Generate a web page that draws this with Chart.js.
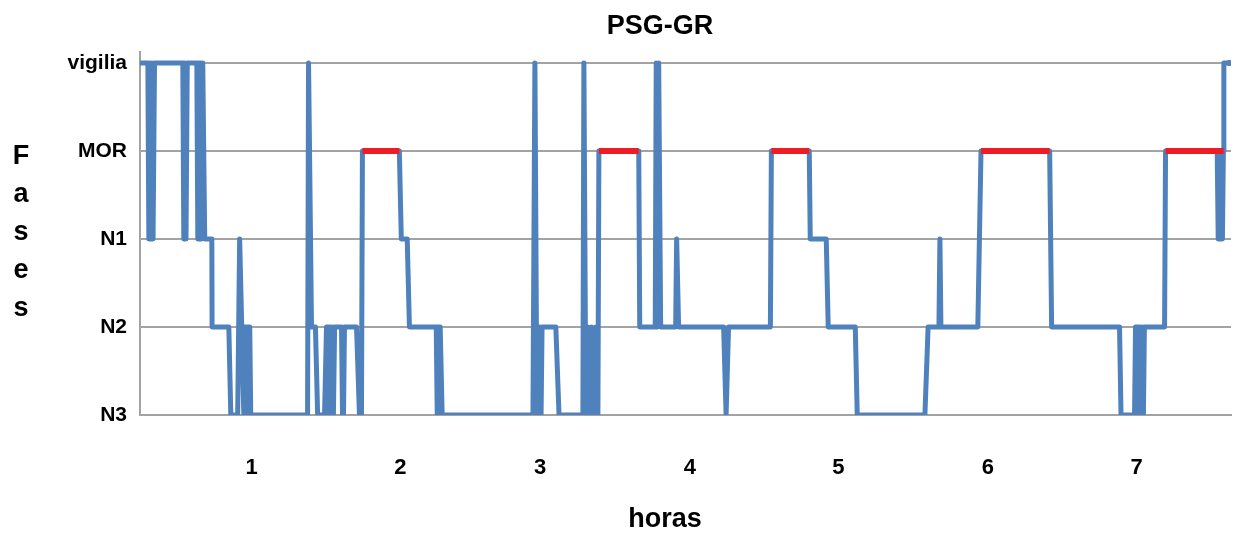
<!DOCTYPE html>
<html>
<head>
<meta charset="utf-8">
<script src="https://cdn.jsdelivr.net/npm/chart.js@4.4.0/dist/chart.umd.min.js"></script>
<style>
  body { margin: 0; background: #fff; }
  #wrap { width: 1235px; height: 536px; position: relative; }
</style>
</head>
<body>
<div id="wrap"><canvas id="hipnograma"></canvas></div>
<script>
  // fases del sueno, de abajo hacia arriba
  const etiquetasFase = ['N3', 'N2', 'N1', 'MOR', 'vigilia'];
  const horas = [1, 2, 3, 4, 5, 6, 7];
  // donde cae cada etiqueta de hora (minutos)
  const posicionHoras = [60, 120.4, 177.2, 238.1, 298.4, 359.2, 419.6];

  // tiempo (minutos) de cada vertice del hipnograma
  const tiempos = [
    14.6, 17.8, 18.2, 18.6, 19.0, 19.5, 19.9, 20.5, 32.0, 32.4,
    32.8, 33.3, 33.8, 37.7, 38.1, 38.5, 38.9, 39.3, 39.7, 40.1,
    40.9, 43.8, 43.9, 50.7, 51.5, 54.3, 55.1, 56.8, 57.0, 57.6,
    58.0, 58.4, 59.2, 59.6, 82.7, 83.1, 84.3, 85.9, 86.8, 89.6,
    90.4, 91.2, 91.6, 92.0, 92.4, 92.8, 93.2, 93.7, 96.5, 96.9,
    97.3, 97.7, 102.6, 103.8, 104.6, 105.0, 120.0, 120.8, 123.2, 124.1,
    135.0, 135.4, 135.8, 136.6, 137.4, 174.3, 175.1, 175.9, 176.3, 176.8,
    177.2, 177.6, 178.0, 183.6, 184.9, 194.6, 195.0, 195.8, 196.6, 197.4,
    198.2, 199.1, 199.9, 200.7, 201.1, 217.3, 217.7, 224.0, 224.4, 225.0,
    225.4, 226.2, 232.3, 232.7, 233.5, 251.8, 252.8, 253.8, 270.8, 271.2,
    286.6, 287.0, 293.5, 294.3, 305.3, 306.1, 333.6, 334.9, 339.3, 339.7,
    340.1, 355.1, 356.4, 384.3, 385.1, 412.7, 413.3, 418.8, 419.2, 420.4,
    420.8, 421.2, 421.6, 422.0, 422.4, 422.8, 431.0, 431.4, 452.4, 452.8,
    453.3, 453.7, 454.1, 454.5, 454.9, 455.1, 457.3
  ];
  const fases = [
    'vigilia', 'vigilia', 'N1', 'vigilia', 'N1', 'vigilia', 'N1', 'vigilia', 'vigilia', 'N1',
    'vigilia', 'N1', 'vigilia', 'vigilia', 'N1', 'vigilia', 'N1', 'vigilia', 'N1', 'vigilia',
    'N1', 'N1', 'N2', 'N2', 'N3', 'N3', 'N1', 'N3', 'N2', 'N2',
    'N3', 'N2', 'N2', 'N3', 'N3', 'vigilia', 'N2', 'N2', 'N3', 'N3',
    'N2', 'N2', 'N3', 'N2', 'N3', 'N2', 'N3', 'N2', 'N2', 'N3',
    'N3', 'N2', 'N2', 'N3', 'N3', 'MOR', 'MOR', 'N1', 'N1', 'N2',
    'N2', 'N3', 'N2', 'N2', 'N3', 'N3', 'vigilia', 'N3', 'N2', 'N3',
    'N2', 'N3', 'N2', 'N2', 'N3', 'N3', 'vigilia', 'N3', 'N2', 'N3',
    'N2', 'N3', 'N2', 'N3', 'MOR', 'MOR', 'N2', 'N2', 'vigilia', 'N2',
    'vigilia', 'N2', 'N2', 'N1', 'N2', 'N2', 'N3', 'N2', 'N2', 'MOR',
    'MOR', 'N1', 'N1', 'N2', 'N2', 'N3', 'N3', 'N2', 'N2', 'N1',
    'N2', 'N2', 'MOR', 'MOR', 'N2', 'N2', 'N3', 'N3', 'N2', 'N2',
    'N3', 'N2', 'N3', 'N2', 'N3', 'N2', 'N2', 'MOR', 'MOR', 'N1',
    'MOR', 'N1', 'MOR', 'N1', 'MOR', 'vigilia', 'vigilia'
  ];

  // periodos MOR marcados en rojo (minutos)
  const remInicio = [105.0, 201.1, 271.2, 356.4, 431.4];
  const remFin = [120.0, 217.3, 286.6, 384.3, 455.0];

  const puntos = tiempos.map((t, i) => ({ x: t, y: etiquetasFase.indexOf(fases[i]) }));

  const puntosMor = [];
  remInicio.forEach((ini, i) => {
    puntosMor.push({ x: ini, y: 3 }, { x: remFin[i], y: 3 }, { x: remFin[i] + 0.01, y: null });
  });

  const fuente = '"Liberation Sans", Arial, sans-serif';

  // titulo, "horas" y "Fases" (letra por letra) escritos a mano
  const textos = {
    id: 'textos',
    afterDraw(chart) {
      const ctx = chart.ctx;
      ctx.save();
      ctx.fillStyle = '#000';
      ctx.textAlign = 'center';
      ctx.textBaseline = 'middle';
      ctx.font = 'bold 27px ' + fuente;
      ctx.fillText('PSG-GR', 660, 27);
      ctx.fillText('horas', 665, 520);
      'Fases'.split('').forEach((letra, i) => {
        ctx.fillText(letra, 21, 157 + i * 38);
      });
      ctx.restore();
    }
  };

  const gris = '#a3a3a3';

  new Chart(document.getElementById('hipnograma'), {
    type: 'line',
    data: {
      datasets: [
        {
          data: puntosMor,
          borderColor: '#ee1c25',
          borderWidth: 6,
          pointRadius: 0,
          spanGaps: false,
          order: 0
        },
        {
          data: puntos,
          borderColor: '#4f81bd',
          borderWidth: 5,
          borderJoinStyle: 'round',
          tension: 0,
          pointRadius: (c) => (c.dataIndex === puntos.length - 1 ? 3 : 0),
          pointBackgroundColor: '#4f81bd',
          pointBorderWidth: 0,
          order: 1
        }
      ]
    },
    options: {
      responsive: true,
      maintainAspectRatio: false,
      animation: false,
      layout: { padding: { left: 0, right: 2, top: 52, bottom: 0 } },
      plugins: {
        legend: { display: false },
        tooltip: { enabled: false },
        title: { display: false }
      },
      scales: {
        x: {
          type: 'linear',
          min: 14.6,
          max: 458,
          afterBuildTicks: (s) => { s.ticks = posicionHoras.map(p => ({ value: p })); },
          afterFit: (s) => { s.height = 121; },
          grid: { display: false, drawTicks: false },
          border: { display: true, color: gris, width: 2 },
          ticks: {
            callback: (v, i) => horas[i],
            color: '#000',
            padding: 40,
            maxRotation: 0,
            autoSkip: false,
            font: { family: fuente, size: 22, weight: 'bold' }
          }
        },
        y: {
          min: 0,
          max: 4.125,
          afterBuildTicks: (s) => { s.ticks = etiquetasFase.map((_, i) => ({ value: i })); },
          afterFit: (s) => { s.width = 140; },
          grid: { color: gris, lineWidth: 2, drawTicks: false },
          border: { display: true, color: gris, width: 2 },
          ticks: {
            callback: (v) => etiquetasFase[v],
            color: '#000',
            padding: 13,
            font: { family: fuente, size: 21, weight: 'bold' }
          }
        }
      }
    },
    plugins: [textos]
  });
</script>
</body>
</html>
